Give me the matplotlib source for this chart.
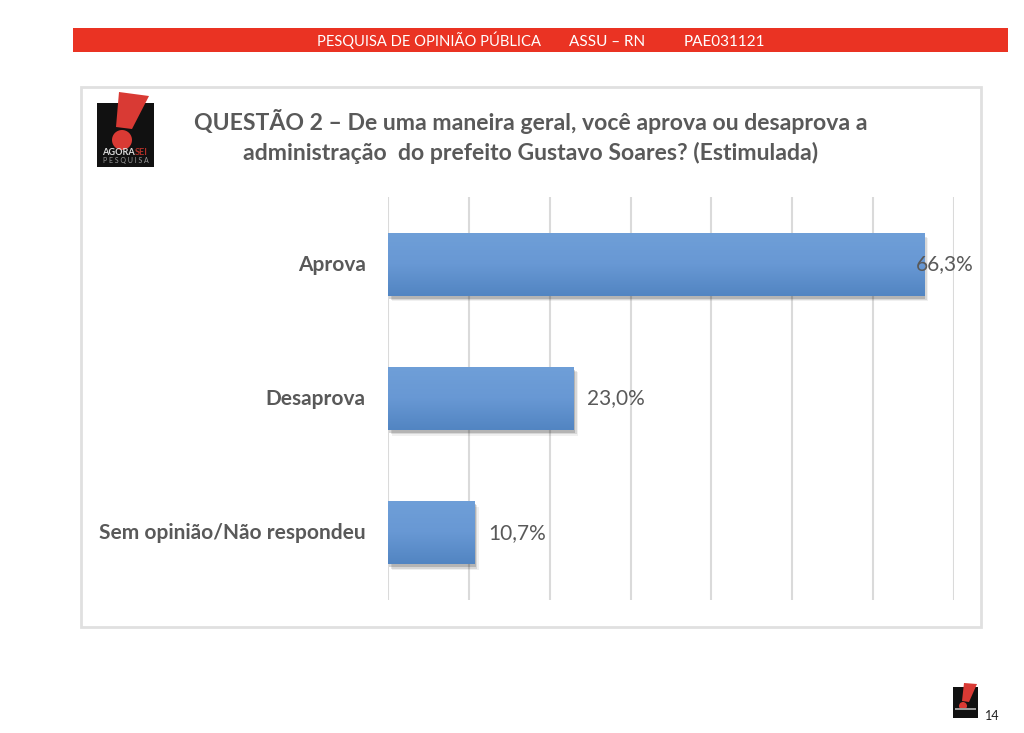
"""Pesquisa Assu/RN, questão 2: barras horizontais com cabeçalho e logo."""
import matplotlib
matplotlib.use("Agg")
import matplotlib.pyplot as plt
import matplotlib.patheffects as pe
import numpy as np
from matplotlib.colors import LinearSegmentedColormap
from matplotlib.patches import Circle, Polygon, Rectangle
from matplotlib.transforms import ScaledTranslation

plt.rcParams["font.family"] = ["Lato", "DejaVu Sans"]

W, H = 1024, 733
RED = "#ea3323"
LOGO_RED = "#d93a34"
GREY = "#595959"
GRID = "#dadada"

categories = ["Aprova", "Desaprova", "Sem opinião/Não respondeu"]
values = [66.3, 23.0, 10.7]
value_labels = ["66,3%", "23,0%", "10,7%"]
x_ticks = [0, 10, 20, 30, 40, 50, 60, 70]

header = [("PESQUISA DE OPINIÃO PÚBLICA", 429, 10.6), ("ASSU – RN", 607.5, 11), ("PAE031121", 724, 11)]
title_lines = [
    "QUESTÃO 2 – De uma maneira geral, você aprova ou desaprova a",
    "administração  do prefeito Gustavo Soares? (Estimulada)",
]

fig = plt.figure(figsize=(W / 100, H / 100), dpi=100, facecolor="white")

# camada em pixels para a moldura, faixa e logos
page = fig.add_axes([0, 0, 1, 1])
page.set_xlim(0, W)
page.set_ylim(H, 0)
page.axis("off")

page.add_patch(Rectangle((73, 28), 935, 24, fc=RED, ec="none"))
for txt, x, size in header:
    page.text(x, 46, txt, color="white", fontsize=size, ha="center", va="baseline")

page.add_patch(Rectangle((81, 87), 900, 540, fc="white", ec="#e0e0e0", lw=2))
for i, line in enumerate(title_lines):
    page.text(531, 129.5 + i * 31, line, color=GREY, fontsize=16.6, fontweight="bold",
              ha="center", va="baseline")


def logo(x0, y0, x1, y1, bang, dot, dot_r, with_text=True):
    page.add_patch(Rectangle((x0, y0), x1 - x0, y1 - y0, fc="#111111", ec="none", zorder=3))
    page.add_patch(Polygon(bang, closed=True, fc=LOGO_RED, ec="none", zorder=4))
    page.add_patch(Circle(dot, dot_r, fc=LOGO_RED, ec="none", zorder=4))
    if with_text:
        page.text(135, 155, "AGORA", color="#dddddd", fontsize=6.6, fontweight="bold",
                  ha="right", va="baseline", zorder=5)
        page.text(135, 155, "SEI", color="#b03028", fontsize=6.6, fontweight="bold",
                  ha="left", va="baseline", zorder=5)
        page.text(125.5, 163.5, "P E S Q U I S A", color="#9a9a9a", fontsize=5, ha="center",
                  va="baseline", zorder=5)


logo(97, 103, 154, 167, [(119, 92), (149, 96), (132, 129), (116, 127)], (122, 140), 10)
logo(953, 687, 978, 718, [(964, 683), (977, 684), (969, 702), (962, 701)], (963, 706), 4,
     with_text=False)
page.add_patch(Rectangle((955, 708), 21, 2, fc="#999999", ec="none", zorder=5))
page.text(992, 715.5, "14", color="#222222", fontsize=9, ha="center", va="center")

# gráfico: 0% em x=388, 70% em x=954
ax = fig.add_axes([388 / W, 1 - 600 / H, (954 - 388) / W, (600 - 197) / H])
ax.patch.set_alpha(0)
ax.set_xlim(0, 70)
ax.set_ylim(2.5, -0.5)
for s in ax.spines.values():
    s.set_visible(False)
ax.set_xticks(x_ticks)
ax.grid(axis="x", color=GRID, lw=1.5)
ax.set_axisbelow(True)
ax.tick_params(axis="x", length=0, labelbottom=False)
ax.tick_params(axis="y", length=0, pad=16)
ax.set_yticks(range(len(categories)), categories, color=GREY, fontsize=15, fontweight="bold")
for lab in ax.get_yticklabels():
    lab.set_transform(lab.get_transform() + ScaledTranslation(0, 1.5 / 100, fig.dpi_scale_trans))

bars = ax.barh(range(len(values)), values, height=0.47, color="#6a9bd6", zorder=2)
cmap = LinearSegmentedColormap.from_list("barra", ["#6f9fd8", "#6898d4", "#5285c2"])
grad = np.linspace(0, 1, 64).reshape(-1, 1)
for bar in bars:
    bar.set_path_effects([
        pe.SimplePatchShadow(offset=(3, -4), shadow_rgbFace="black", alpha=0.06),
        pe.SimplePatchShadow(offset=(2, -3), shadow_rgbFace="black", alpha=0.10),
        pe.SimplePatchShadow(offset=(1, -2), shadow_rgbFace="black", alpha=0.16),
        pe.Normal(),
    ])
    im = ax.imshow(grad, cmap=cmap, aspect="auto", zorder=3, interpolation="bilinear",
                   extent=[0, bar.get_width(), bar.get_y() + bar.get_height(), bar.get_y()])
    im.set_clip_path(bar)
ax.set_xlim(0, 70)
ax.set_ylim(2.5, -0.5)

for bar, label in zip(bars, value_labels):
    ax.annotate(label, (bar.get_width(), bar.get_y() + bar.get_height() / 2),
                xytext=(13.5 if bar.get_width() < 60 else -8, 0), textcoords="offset pixels",
                color=GREY, fontsize=15, va="center", ha="left", zorder=6)

fig.savefig("out.png", dpi=100, facecolor="white")
plt.close(fig)
